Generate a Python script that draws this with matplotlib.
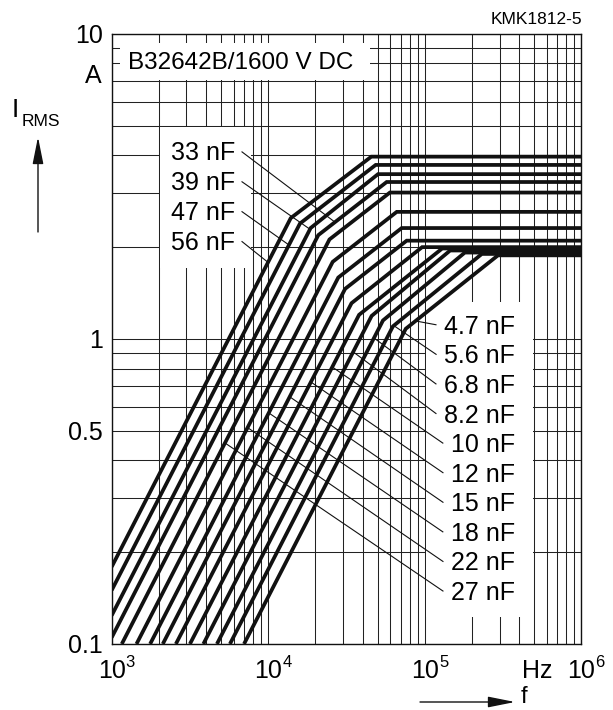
import numpy as np
import matplotlib.pyplot as plt
from matplotlib.patches import Rectangle
from matplotlib.ticker import LogLocator, NullFormatter

plt.rcParams['font.family'] = ['Liberation Sans', 'DejaVu Sans']

# capacitance per curve, leftmost (largest) curve first
cap_nf = [56, 47, 39, 33, 27, 22, 18, 15, 12, 10, 8.2, 6.8, 5.6, 4.7]

# voltage limited branch: start point and upper end
f_start = [1000, 1000, 1000, 1000, 1160, 1440, 1760, 2120, 2570, 3160, 3850, 4700, 5690, 7000]
i_start = [0.179, 0.150, 0.124, 0.105, 0.1, 0.1, 0.1, 0.1, 0.1, 0.1, 0.1, 0.1, 0.1, 0.1]
f_knee1 = [13910, 15930, 18630, 20860, 24590, 25780, 27980, 30950, 34000, 38000, 45700, 54000, 62500, 75500]
i_knee1 = [2.49, 2.39, 2.31, 2.19, 2.12, 1.79, 1.59, 1.46, 1.31, 1.20, 1.19, 1.15, 1.10, 1.08]

# current limited branch (flat part) starts here
f_knee2 = [45500, 48500, 50200, 57000, 59800, 66100, 71100, 76500, 96000, 129000, 145000, 180000, 231000, 293000]
i_max = [3.96, 3.72, 3.47, 3.27, 3.02, 2.61, 2.31, 2.10, 2.00, 1.98, 1.95, 1.92, 1.90, 1.88]

# labels with leader lines and the frequency where each leader meets its curve
left_labels = ["33 nF", "39 nF", "47 nF", "56 nF"]
left_hit_f = [26660, 18460, 13550, 9960]
right_labels = ["4.7 nF", "5.6 nF", "6.8 nF", "8.2 nF", "10 nF",
                "12 nF", "15 nF", "18 nF", "22 nF", "27 nF"]
right_hit_f = [87200, 63300, 47300, 34840, 25620, 18710, 13700, 10070, 7375, 5290]

curves = {}
for k, c in enumerate(cap_nf):
    curves[c] = ([f_start[k], f_knee1[k], f_knee2[k], 1e6],
                 [i_start[k], i_knee1[k], i_max[k], i_max[k]])


def current_at(c, f):
    fs, cur = curves[c]
    return 10 ** np.interp(np.log10(f), np.log10(fs), np.log10(cur))


fig = plt.figure(figsize=(6.13, 7.10), dpi=100)
ax = fig.add_axes([0.1822, 0.0930, 0.7664, 0.8592])
ax.set_xscale('log')
ax.set_yscale('log')
ax.set_xlim(1e3, 1e6)
ax.set_ylim(0.1, 10)

ax.xaxis.set_minor_locator(LogLocator(base=10, subs=np.arange(2, 10)))
ax.yaxis.set_minor_locator(LogLocator(base=10, subs=np.arange(2, 10)))
ax.xaxis.set_minor_formatter(NullFormatter())
ax.yaxis.set_minor_formatter(NullFormatter())
ax.set_axisbelow(True)
ax.grid(True, which='both', color='#222222', lw=0.75)
ax.tick_params(which='both', length=0)
for sp in ax.spines.values():
    sp.set_linewidth(1.0)
    sp.set_color('#111111')

ax.set_xticks([1e3, 1e4, 1e5, 1e6])
ax.set_xticklabels([])
ax.set_yticks([0.1, 0.5, 1, 10])
ax.set_yticklabels(['0.1', '0.5', '1', '10'], fontsize=18)
ax.tick_params(axis='y', pad=6.5)

# white boxes that keep the grid away from the texts
boxes = [(1130, 7.07, 44700, 9.34), (2025, 1.71, 7755, 4.97), (101000, 0.1226, 490000, 1.322)]
for x0, y0, x1, y1 in boxes:
    ax.add_patch(Rectangle((x0, y0), x1 - x0, y1 - y0, facecolor='white',
                           edgecolor='none', zorder=1))

for c in cap_nf:
    fs, cur = curves[c]
    ax.plot(fs, cur, color='#111111', lw=2.7, solid_joinstyle='miter',
            solid_capstyle='butt', zorder=2)

ax.text(0.034, 0.953, "B32642B/1600 V DC", transform=ax.transAxes,
        fontsize=17.5, ha='left', va='center', zorder=4)

left_texts = []
for k, lab in enumerate(left_labels):
    t = ax.text(0.2625, 0.805 - k * 0.049, lab, transform=ax.transAxes,
                fontsize=18, ha='right', va='center', zorder=4)
    left_texts.append(t)
right_texts = []
for k, lab in enumerate(right_labels):
    t = ax.text(0.8584, 0.520 - k * 0.0485, lab, transform=ax.transAxes,
                fontsize=18, ha='right', va='center', zorder=4)
    right_texts.append(t)

fig.canvas.draw()
inv = ax.transData.inverted()

for t, lab, fh in zip(left_texts, left_labels, left_hit_f):
    bb = t.get_window_extent()
    x0, y0 = inv.transform((bb.x1 + 7, (bb.y0 + bb.y1) / 2 + 1))
    c = float(lab.split()[0])
    ax.plot([x0, fh], [y0, current_at(c, fh)], color='#111111', lw=0.8, zorder=3)

for t, lab, fh in zip(right_texts, right_labels, right_hit_f):
    bb = t.get_window_extent()
    x0, y0 = inv.transform((bb.x0 - 8, (bb.y0 + bb.y1) / 2 + 2))
    c = float(lab.split()[0])
    ax.plot([x0, fh], [y0, current_at(c, fh)], color='#111111', lw=0.8, zorder=3)

# frequency axis labels: mantissa centred on the tick, exponent to the right
for f, e in zip([1e3, 1e4, 1e5, 1e6], ['3', '4', '5', '6']):
    ax.annotate('10', xy=(f, 0), xycoords=('data', 'axes fraction'),
                xytext=(0, -34), textcoords='offset pixels',
                ha='center', va='baseline', fontsize=18, annotation_clip=False)
    ax.annotate(e, xy=(f, 0), xycoords=('data', 'axes fraction'),
                xytext=(14, -23), textcoords='offset pixels',
                ha='left', va='baseline', fontsize=12, annotation_clip=False)
ax.annotate('Hz', xy=(5e5, 0), xycoords=('data', 'axes fraction'),
            xytext=(3, -34), textcoords='offset pixels',
            ha='center', va='baseline', fontsize=18, annotation_clip=False)
ax.annotate('A', xy=(0, 7.3), xycoords=('axes fraction', 'data'),
            xytext=(-10, 0), textcoords='offset pixels',
            ha='right', va='center', fontsize=18, annotation_clip=False)

# axis names with arrows
fig.text(12 / 613, 1 - 110 / 710, "I", fontsize=19, ha='left', va='center')
fig.text(22 / 613, 1 - 121 / 710, "RMS", fontsize=12.5, ha='left', va='center')
fig.add_artist(plt.Annotation('', xy=(38 / 613, 1 - 137 / 710), xycoords='figure fraction',
                              xytext=(38 / 613, 1 - 232 / 710), textcoords='figure fraction',
                              arrowprops=dict(arrowstyle='-|>,head_length=1.65,head_width=0.33',
                                              mutation_scale=10, color='#111111', lw=1,
                                              shrinkA=0, shrinkB=0)))
fig.add_artist(plt.Annotation('', xy=(515 / 613, 1 - 702 / 710), xycoords='figure fraction',
                              xytext=(420 / 613, 1 - 702 / 710), textcoords='figure fraction',
                              arrowprops=dict(arrowstyle='-|>,head_length=1.65,head_width=0.33',
                                              mutation_scale=10, color='#111111', lw=1,
                                              shrinkA=0, shrinkB=0)))
fig.text(521 / 613, 1 - 703 / 710, "f", fontsize=17, ha='left', va='baseline')
fig.text(582 / 613, 1 - 20 / 710, "KMK1812-5", fontsize=12.5, ha='right', va='center')

fig.savefig('out.png', dpi=100)
